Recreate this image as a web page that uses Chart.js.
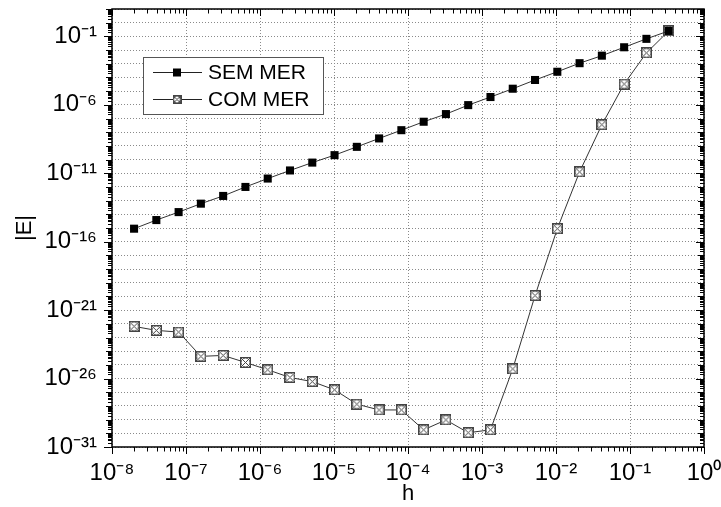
<!DOCTYPE html>
<html>
<head>
<meta charset="utf-8">
<script src="https://cdn.jsdelivr.net/npm/chart.js@4/dist/chart.umd.min.js"></script>
<style>
  html, body { margin: 0; padding: 0; background: #fff; }
  canvas { display: block; }
</style>
</head>
<body>
<canvas id="myChart" width="721" height="507"></canvas>
<script>
// step sizes h (from smallest to largest)
const hValues = [
  1.987e-8, 3.974e-8, 7.947e-8, 1.589e-7, 3.179e-7, 6.358e-7, 1.272e-6,
  2.543e-6, 5.086e-6, 1.017e-5, 2.035e-5, 4.069e-5, 8.138e-5, 1.628e-4,
  3.255e-4, 6.51e-4, 1.302e-3, 2.604e-3, 5.208e-3, 1.042e-2, 2.083e-2,
  4.167e-2, 8.333e-2, 0.1667, 0.3333,
];

// |E| without MER
const semMer = [
  8.9e-16, 3.8e-15, 1.45e-14, 6.0e-14, 2.2e-13, 1.0e-12, 4.1e-12,
  1.6e-11, 6.0e-11, 2.1e-10, 8.5e-10, 3.5e-9, 1.4e-8, 5.8e-8,
  2.1e-7, 9.5e-7, 3.7e-6, 1.5e-5, 6.5e-5, 2.6e-4, 1.1e-3,
  3.9e-3, 1.6e-2, 6.6e-2, 0.25,
];

// |E| with MER
const comMer = [
  6.5e-23, 3.3e-23, 2.5e-23, 4.2e-25, 4.9e-25, 1.5e-25, 4.4e-26,
  1.2e-26, 6.0e-27, 1.5e-27, 1.35e-28, 5.1e-29, 5.1e-29, 1.8e-30,
  9.5e-30, 1.1e-30, 1.8e-30, 5.1e-26, 1.15e-20, 8.9e-16, 1.26e-11,
  3.5e-8, 3.3e-5, 6.2e-3, 0.25,
];

const seriesNames = ["SEM MER", "COM MER"];

const xTicks = [1e-8, 1e-7, 1e-6, 1e-5, 1e-4, 1e-3, 1e-2, 1e-1, 1];
const yTicks = [];
for (let e = -31; e <= 1; e++) yTicks.push(Number("1e" + e));
const yLabelExps = [-31, -26, -21, -16, -11, -6, -1];

const FONT = "'Liberation Sans', Arial, sans-serif";
const SUP = { "-": "⁻", "0": "⁰", "1": "¹", "2": "²", "3": "³", "4": "⁴", "5": "⁵", "6": "⁶", "7": "⁷", "8": "⁸", "9": "⁹" };

function pow10Label(v) {
  const e = Math.round(Math.log10(v));
  return "10" + String(e).split("").map((c) => SUP[c]).join("");
}

function crossMarker(size) {
  const c = document.createElement("canvas");
  c.width = size;
  c.height = size;
  const g = c.getContext("2d");
  g.fillStyle = "#fff";
  g.fillRect(0, 0, size, size);
  g.strokeStyle = "#444";
  g.lineWidth = 1;
  g.strokeRect(0.5, 0.5, size - 1, size - 1);
  g.beginPath();
  g.moveTo(1, 1);
  g.lineTo(size - 1, size - 1);
  g.moveTo(size - 1, 1);
  g.lineTo(1, size - 1);
  g.stroke();
  g.beginPath();
  g.arc(size / 2, size / 2, size / 2 - 1, 0, Math.PI * 2);
  g.stroke();
  return c;
}

const comMarker = crossMarker(11);
const comMarkerSmall = crossMarker(9);

function noPad(s) {
  s.paddingTop = 0;
  s.paddingBottom = 0;
  s.paddingLeft = 0;
  s.paddingRight = 0;
}

// frame + tick marks like the original plot
const framePlugin = {
  id: "frame",
  afterDraw(chart) {
    const { ctx, chartArea: a, scales } = chart;
    const x = scales.x;
    const y = scales.y;
    ctx.save();
    ctx.strokeStyle = "#000";
    ctx.lineWidth = 1;
    ctx.beginPath();
    for (let e = -8; e <= 0; e++) {
      for (let m = 1; m <= 9; m++) {
        const v = m * Math.pow(10, e);
        if (v > 1.0001) break;
        const px = Math.round(x.getPixelForValue(v)) + 0.5;
        const len = m === 1 ? 7 : 4.5;
        ctx.moveTo(px, a.bottom);
        ctx.lineTo(px, a.bottom + len);
        ctx.moveTo(px, a.top);
        ctx.lineTo(px, a.top + len);
      }
    }
    for (let e = -31; e <= 1; e++) {
      for (let m = 1; m <= 9; m++) {
        const v = m * Math.pow(10, e);
        if (v > 10.0001) break;
        const py = Math.round(y.getPixelForValue(v)) + 0.5;
        let len = m === 1 ? 6 : 4;
        if (m === 1 && yLabelExps.includes(e)) len = 8;
        ctx.moveTo(a.left, py);
        ctx.lineTo(a.left - len, py);
        ctx.moveTo(a.right, py);
        ctx.lineTo(a.right - len, py);
      }
    }
    ctx.stroke();
    ctx.lineWidth = 1.5;
    ctx.strokeRect(a.left, a.top, a.right - a.left, a.bottom - a.top);
    ctx.restore();
  },
};

// legend box inside the plot
const legendPlugin = {
  id: "boxLegend",
  afterDraw(chart) {
    const ctx = chart.ctx;
    ctx.save();
    ctx.fillStyle = "#fff";
    ctx.fillRect(143, 57, 180, 57);
    ctx.strokeStyle = "#555";
    ctx.lineWidth = 1;
    ctx.strokeRect(143.5, 57.5, 180, 57);
    const rows = [72.5, 99.5];
    rows.forEach((ry, i) => {
      ctx.strokeStyle = "#222";
      ctx.beginPath();
      ctx.moveTo(153, ry);
      ctx.lineTo(202, ry);
      ctx.stroke();
      if (i === 0) {
        ctx.fillStyle = "#000";
        ctx.fillRect(173, ry - 4, 8, 8);
      } else {
        ctx.drawImage(comMarkerSmall, 172.5, ry - 4.5);
      }
      ctx.fillStyle = "#000";
      ctx.font = "21px " + FONT;
      ctx.textBaseline = "middle";
      ctx.fillText(seriesNames[i], 208, ry + 1);
    });
    ctx.restore();
  },
};

const ctx = document.getElementById("myChart").getContext("2d");

const data = {
  datasets: [
    {
      label: seriesNames[0],
      data: hValues.map((h, i) => ({ x: h, y: semMer[i] })),
      borderColor: "#333",
      borderWidth: 1,
      pointStyle: "rect",
      pointRadius: 5.7,
      pointBackgroundColor: "#000",
      pointBorderColor: "#000",
      pointBorderWidth: 0,
    },
    {
      label: seriesNames[1],
      data: hValues.map((h, i) => ({ x: h, y: comMer[i] })),
      borderColor: "#333",
      borderWidth: 1,
      pointStyle: comMarker,
    },
  ],
};

const config = {
  type: "line",
  data: data,
  options: {
    responsive: false,
    animation: false,
    events: [],
    layout: { padding: { top: 9, right: 17, left: 0, bottom: 0 } },
    plugins: {
      legend: { display: false },
      tooltip: { enabled: false },
    },
    scales: {
      x: {
        type: "logarithmic",
        min: 1e-8,
        max: 1,
        afterBuildTicks: (s) => {
          s.ticks = xTicks.map((v) => ({ value: v }));
        },
        afterFit: (s) => {
          s.height = 60;
          noPad(s);
        },
        grid: { color: "#8a8a8a", lineWidth: 1, drawTicks: false },
        border: { display: false, dash: [1, 2] },
        ticks: {
          autoSkip: false,
          maxRotation: 0,
          padding: 12,
          color: "#000",
          font: { family: FONT, size: 24 },
          callback: (v) => pow10Label(v),
        },
        title: {
          display: true,
          text: "h",
          color: "#000",
          font: { family: FONT, size: 22 },
          padding: { top: 0, bottom: 0 },
        },
      },
      y: {
        type: "logarithmic",
        min: 1e-31,
        max: 10,
        afterBuildTicks: (s) => {
          s.ticks = yTicks.map((v) => ({ value: v }));
        },
        afterFit: (s) => {
          s.width = 112;
          noPad(s);
        },
        grid: { color: "#8a8a8a", lineWidth: 1, drawTicks: false },
        border: { display: false, dash: [1, 2] },
        ticks: {
          autoSkip: false,
          padding: 15,
          color: "#000",
          font: { family: FONT, size: 24 },
          callback: (v) => {
            const e = Math.round(Math.log10(v));
            return yLabelExps.includes(e) ? pow10Label(v) : "";
          },
        },
        title: {
          display: true,
          text: "|E|",
          color: "#000",
          font: { family: FONT, size: 22 },
          padding: { top: 12, bottom: 0 },
        },
      },
    },
  },
  plugins: [framePlugin, legendPlugin],
};

const errorChart = new Chart(ctx, config);
</script>
</body>
</html>
